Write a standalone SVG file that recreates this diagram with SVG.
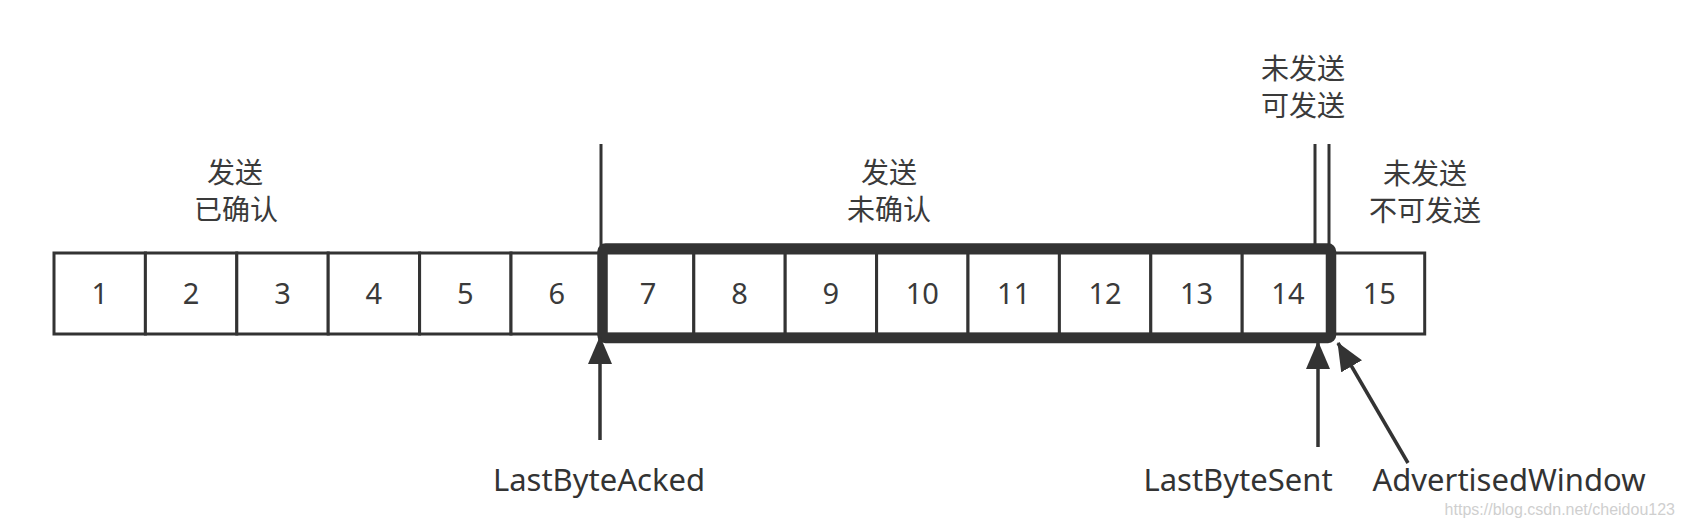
<svg xmlns="http://www.w3.org/2000/svg" width="1686" height="520" viewBox="0 0 1686 520">
<style>
.cell{fill:#fff;stroke:#333;stroke-width:3}
.num{font-family:"Noto Sans","Noto Sans CJK SC",sans-serif;font-size:29px;fill:#3a3a3a;text-anchor:middle}
.cjk{font-family:"Noto Sans CJK SC","Noto Sans",sans-serif;font-size:28px;fill:#3a3a3a;text-anchor:middle}
.lbl{font-family:"Noto Sans","Noto Sans CJK SC",sans-serif;font-size:31px;fill:#333;text-anchor:middle}
.thin{stroke:#333;stroke-width:3;fill:none}
.arrow{stroke:#333;stroke-width:3.5;fill:none;marker-end:url(#ah)}
.wm{font-family:"Liberation Sans",Arial,sans-serif;font-size:16px;fill:#cfcfcf;text-anchor:end}
</style>
<defs>
<marker id="ah" markerUnits="userSpaceOnUse" viewBox="0 0 28 24" refX="27" refY="12" markerWidth="28" markerHeight="24" orient="auto">
<path d="M0,0 L28,12 L0,24 z" fill="#333"/>
</marker>
</defs>
<rect width="1686" height="520" fill="#fff"/>

<g id="cells">
<g id="cell1"><rect class="cell" x="54" y="253" width="91.4" height="81"/><text class="num" x="99.7" y="304">1</text></g>
<g id="cell2"><rect class="cell" x="145.4" y="253" width="91.4" height="81"/><text class="num" x="191.1" y="304">2</text></g>
<g id="cell3"><rect class="cell" x="236.8" y="253" width="91.4" height="81"/><text class="num" x="282.5" y="304">3</text></g>
<g id="cell4"><rect class="cell" x="328.2" y="253" width="91.4" height="81"/><text class="num" x="373.9" y="304">4</text></g>
<g id="cell5"><rect class="cell" x="419.6" y="253" width="91.4" height="81"/><text class="num" x="465.3" y="304">5</text></g>
<g id="cell6"><rect class="cell" x="511" y="253" width="91.4" height="81"/><text class="num" x="556.7" y="304">6</text></g>
<g id="cell7"><rect class="cell" x="602.4" y="253" width="91.4" height="81"/><text class="num" x="648.1" y="304">7</text></g>
<g id="cell8"><rect class="cell" x="693.8" y="253" width="91.4" height="81"/><text class="num" x="739.5" y="304">8</text></g>
<g id="cell9"><rect class="cell" x="785.2" y="253" width="91.4" height="81"/><text class="num" x="830.9" y="304">9</text></g>
<g id="cell10"><rect class="cell" x="876.6" y="253" width="91.4" height="81"/><text class="num" x="922.3" y="304">10</text></g>
<g id="cell11"><rect class="cell" x="968" y="253" width="91.4" height="81"/><text class="num" x="1013.7" y="304">11</text></g>
<g id="cell12"><rect class="cell" x="1059.4" y="253" width="91.4" height="81"/><text class="num" x="1105.1" y="304">12</text></g>
<g id="cell13"><rect class="cell" x="1150.8" y="253" width="91.4" height="81"/><text class="num" x="1196.5" y="304">13</text></g>
<g id="cell14"><rect class="cell" x="1242.2" y="253" width="91.4" height="81"/><text class="num" x="1287.9" y="304">14</text></g>
<g id="cell15"><rect class="cell" x="1331" y="253" width="93.7" height="81"/><text class="num" x="1379.3" y="304">15</text></g>
</g>

<g id="window">
<rect x="602.5" y="248.5" width="728.5" height="89.5" rx="3" fill="none" stroke="#333" stroke-width="10.5"/>
</g>

<g id="separators">
<line class="thin" x1="601" y1="144" x2="601" y2="246"/>
<line class="thin" x1="1315" y1="144" x2="1315" y2="246"/>
<line class="thin" x1="1329" y1="144" x2="1329" y2="246"/>
</g>

<g id="region-labels">
<g id="label-acked"><text class="cjk" x="235" y="183">发送</text><text class="cjk" x="236" y="220">已确认</text></g>
<g id="label-unacked"><text class="cjk" x="889" y="183">发送</text><text class="cjk" x="889" y="220">未确认</text></g>
<g id="label-sendable"><text class="cjk" x="1303" y="79">未发送</text><text class="cjk" x="1303" y="116">可发送</text></g>
<g id="label-notsendable"><text class="cjk" x="1425" y="184">未发送</text><text class="cjk" x="1425" y="221">不可发送</text></g>
</g>

<g id="connectors">
<line class="arrow" x1="600" y1="440" x2="600" y2="337"/>
<line class="arrow" x1="1318" y1="447" x2="1318" y2="342"/>
<line class="arrow" x1="1408" y1="463" x2="1338" y2="343"/>
</g>

<g id="pointer-labels">
<text id="lba" class="lbl" x="599" y="491">LastByteAcked</text>
<text id="lbs" class="lbl" x="1238" y="491">LastByteSent</text>
<text id="adw" class="lbl" x="1509" y="491">AdvertisedWindow</text>
</g>

<text class="wm" x="1675" y="515">https://blog.csdn.net/cheidou123</text>
</svg>
